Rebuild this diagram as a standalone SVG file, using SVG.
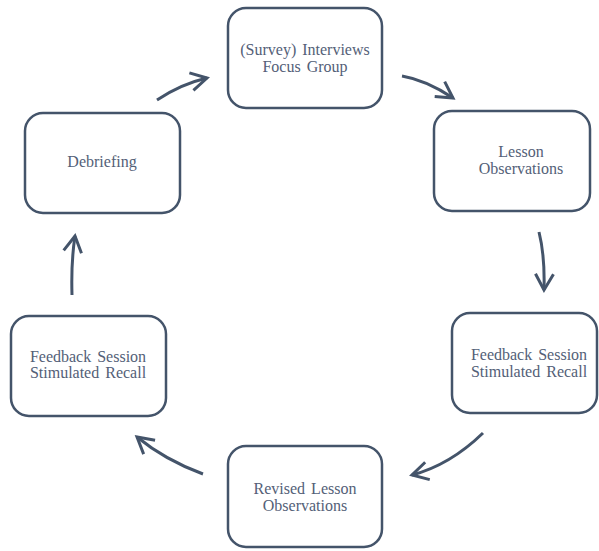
<svg xmlns="http://www.w3.org/2000/svg" width="599" height="551" viewBox="0 0 599 551">
  <style>
    .box { fill: #ffffff; stroke: #44546A; stroke-width: 2.5; }
    .lbl { font-family: 'Liberation Serif', 'DejaVu Serif', serif; font-size: 16px; fill: #536077; text-anchor: middle; word-spacing: 2px; }
    .arr { fill: none; stroke: #44546A; stroke-width: 3; marker-end: url(#chev); }
  </style>
  <defs>
    <marker id="chev" markerUnits="userSpaceOnUse" viewBox="-20 -12 24 24" markerWidth="24" markerHeight="24" refX="0" refY="0" orient="auto" overflow="visible">
      <path d="M -16 -9 L 0 0 L -16 9" fill="none" stroke="#44546A" stroke-width="3" stroke-linejoin="miter" stroke-linecap="butt"/>
    </marker>
  </defs>
  <rect width="599" height="551" fill="#ffffff"/>

  <g id="connectors">
    <path class="arr" d="M 157 100 Q 181 84 207 78"/>
    <path class="arr" d="M 402 76 Q 426 80 453 98"/>
    <path class="arr" d="M 539 232 Q 545 256 544 290"/>
    <path class="arr" d="M 483 433 Q 450 465 412 475"/>
    <path class="arr" d="M 203 474 Q 165 460 137 437"/>
    <path class="arr" d="M 72 295 Q 71 262 75 236"/>
  </g>

  <g id="node-interviews">
    <rect class="box" x="228" y="8" width="154" height="100" rx="18"/>
    <text class="lbl" x="305" y="55">(Survey) Interviews</text>
    <text class="lbl" x="305" y="72">Focus Group</text>
  </g>

  <g id="node-lesson-observations">
    <rect class="box" x="434" y="111" width="156" height="100" rx="18"/>
    <text class="lbl" x="521" y="157">Lesson</text>
    <text class="lbl" x="521" y="174">Observations</text>
  </g>

  <g id="node-feedback-right">
    <rect class="box" x="452" y="313" width="145" height="100" rx="18"/>
    <text class="lbl" x="529" y="360">Feedback Session</text>
    <text class="lbl" x="529" y="377">Stimulated Recall</text>
  </g>

  <g id="node-revised">
    <rect class="box" x="228" y="446" width="154" height="101" rx="18"/>
    <text class="lbl" x="305" y="494">Revised Lesson</text>
    <text class="lbl" x="305" y="511">Observations</text>
  </g>

  <g id="node-feedback-left">
    <rect class="box" x="11" y="316" width="155" height="100" rx="18"/>
    <text class="lbl" x="88" y="362">Feedback Session</text>
    <text class="lbl" x="88" y="378">Stimulated Recall</text>
  </g>

  <g id="node-debriefing">
    <rect class="box" x="25" y="113" width="155" height="100" rx="18"/>
    <text class="lbl" x="102" y="167">Debriefing</text>
  </g>
</svg>
